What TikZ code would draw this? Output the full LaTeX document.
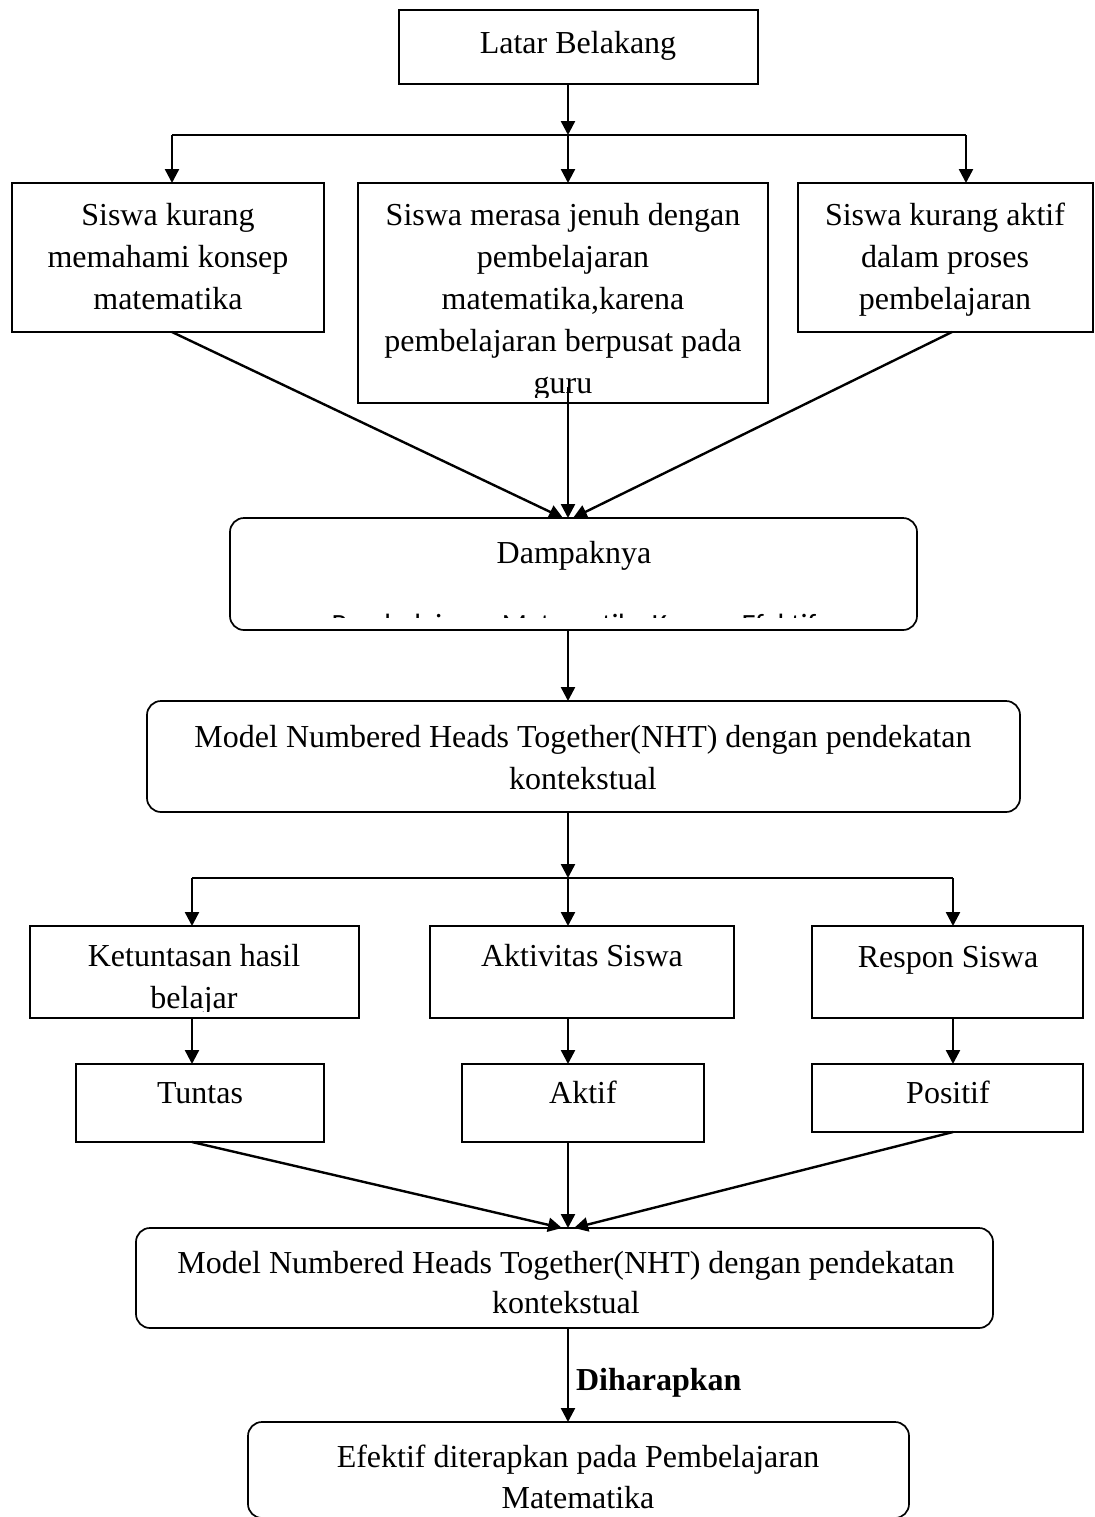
\documentclass[tikz,border=0pt]{standalone}
\usepackage{fontspec}
\setmainfont{Liberation Serif}
\newfontfamily\calibrifont{Carlito}
\usetikzlibrary{arrows.meta,fit}

\begin{document}
\begin{tikzpicture}[x=0.5pt,y=-0.5pt,
  box/.style={draw, line width=0.85pt, inner sep=0pt, outer sep=0pt},
  rbox/.style={box, rounded corners=7pt},
  lbl/.style={anchor=base, inner sep=0pt, outer sep=0pt, font=\fontsize{16}{21}\selectfont},
  conn/.style={line width=1.2pt},
  arr/.style={conn, -{Triangle[length=7pt,width=7pt]}},
]
\clip (0,0) rectangle (1095,1517);

% ---------- boxes ----------
\node[box,  fit={(399,10) (758,84)}]     (latar) {};
\node[box,  fit={(12,183) (324,332)}]    (b1) {};
\node[box,  fit={(358,183) (768,403)}]   (b2) {};
\node[box,  fit={(798,183) (1093,332)}]  (b3) {};
\node[rbox, fit={(230,518) (917,630)}]   (damp) {};
\node[rbox, fit={(147,701) (1020,812)}]  (nht1) {};
\node[box,  fit={(30,926) (359,1018)}]   (ket) {};
\node[box,  fit={(430,926) (734,1018)}]  (aktv) {};
\node[box,  fit={(812,926) (1083,1018)}] (resp) {};
\node[box,  fit={(76,1064) (324,1142)}]  (tun) {};
\node[box,  fit={(462,1064) (704,1142)}] (akt) {};
\node[box,  fit={(812,1064) (1083,1132)}] (pos) {};
\node[rbox, fit={(136,1228) (993,1328)}] (nht2) {};
\node[rbox, fit={(248,1422) (909,1518)}] (eff) {};

% ---------- texts ----------
\node[lbl] (tlatar) at (578,53) {Latar Belakang};

\node[lbl] (t1a) at (168,225) {Siswa kurang};
\node[lbl] (t1b) at (168,267) {memahami konsep};
\node[lbl] (t1c) at (168,309) {matematika};

\begin{scope}
  \clip (358,183) rectangle (768,397);
  \node[lbl] (t2a) at (563,225) {Siswa merasa jenuh dengan};
  \node[lbl] (t2b) at (563,267) {pembelajaran};
  \node[lbl] (t2c) at (563,309) {matematika,karena};
  \node[lbl] (t2d) at (563,351) {pembelajaran berpusat pada};
  \node[lbl] (t2e) at (563,393) {guru};
\end{scope}

\node[lbl] (t3a) at (945,225) {Siswa kurang aktif};
\node[lbl] (t3b) at (945,267) {dalam proses};
\node[lbl] (t3c) at (945,309) {pembelajaran};

\node[lbl] (tdamp) at (574,563) {Dampaknya};
\begin{scope}
  \clip (230,518) rectangle (917,617);
  \node[lbl, font=\calibrifont\fontsize{14.67}{18}\selectfont] (tdamp2) at (574,634)
    {Pembelajaran Matematika Kurang Efektif};
\end{scope}

\node[lbl] (tn1a) at (583,747) {Model Numbered Heads Together(NHT) dengan pendekatan};
\node[lbl] (tn1b) at (583,789) {kontekstual};

\begin{scope}
  \clip (30,926) rectangle (359,1011);
  \node[lbl] (tketa) at (194,966) {Ketuntasan hasil};
  \node[lbl] (tketb) at (194,1008) {belajar};
\end{scope}
\node[lbl] (taktv) at (582,966) {Aktivitas Siswa};
\node[lbl] (tresp) at (948,967) {Respon Siswa};

\node[lbl] (ttun) at (200,1103) {Tuntas};
\node[lbl] (takt) at (583,1103) {Aktif};
\node[lbl] (tpos) at (948,1103) {Positif};

\node[lbl] (tn2a) at (566,1273) {Model Numbered Heads Together(NHT) dengan pendekatan};
\node[lbl] (tn2b) at (566,1313) {kontekstual};

\node[lbl, anchor=base west, font=\fontsize{16}{21}\selectfont\bfseries] (tdih) at (576,1390) {Diharapkan};

\node[lbl] (teffa) at (578,1467) {Efektif diterapkan pada Pembelajaran};
\node[lbl] (teffb) at (578,1508) {Matematika};

% ---------- connectors ----------
\coordinate (s1)  at (568,135);
\coordinate (s1l) at (172,135);
\coordinate (s1r) at (966,135);
\draw[arr] (latar.south -| s1) -- (s1);
\draw[conn] (s1l) -- (s1r);
\draw[arr] (s1l) -- (s1l |- b1.north);
\draw[arr] (s1)  -- (s1 |- b2.north);
\draw[arr] (s1r) -- (s1r |- b3.north);

\coordinate (d1) at (172,332);
\coordinate (d3) at (952,332);
\coordinate (g1) at (568,387);
\coordinate (m1l) at (563,518);
\coordinate (m1r) at (573,518);
\draw[arr] (d1) -- (m1l);
\draw[arr] (d3) -- (m1r);
\draw[arr] (g1) -- (g1 |- damp.north);

\draw[arr] (damp.south -| s1) -- (nht1.north -| s1);

\coordinate (s2)  at (568,878);
\coordinate (s2l) at (192,878);
\coordinate (s2r) at (953,878);
\draw[arr] (nht1.south -| s2) -- (s2);
\draw[conn] (s2l) -- (s2r);
\draw[arr] (s2l) -- (s2l |- ket.north);
\draw[arr] (s2)  -- (s2 |- aktv.north);
\draw[arr] (s2r) -- (s2r |- resp.north);

\draw[arr] (ket.south -| s2l)  -- (tun.north -| s2l);
\draw[arr] (aktv.south -| s2)  -- (akt.north -| s2);
\draw[arr] (resp.south -| s2r) -- (pos.north -| s2r);

\coordinate (m2l) at (562,1228);
\coordinate (m2r) at (574,1228);
\draw[arr] (tun.south -| s2l) -- (m2l);
\draw[arr] (akt.south -| s2)  -- (nht2.north -| s2);
\draw[arr] (pos.south -| s2r) -- (m2r);

\draw[arr] (nht2.south -| s2) -- (eff.north -| s2);
\end{tikzpicture}
\end{document}
